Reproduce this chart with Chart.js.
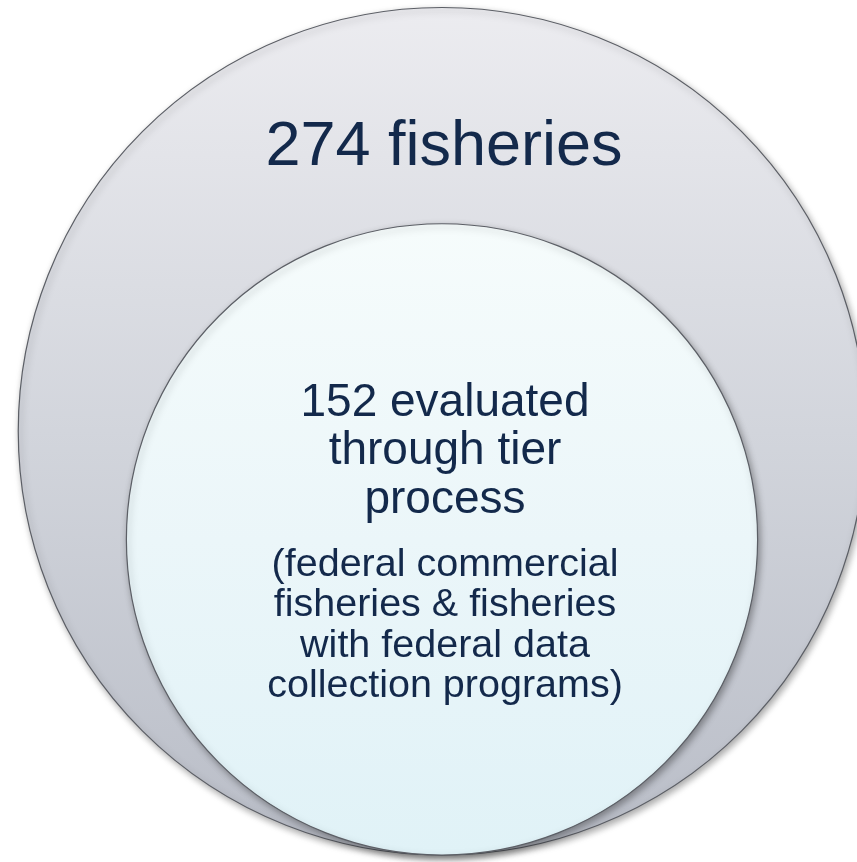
<!DOCTYPE html>
<html>
<head>
<meta charset="utf-8">
<script src="https://cdn.jsdelivr.net/npm/chart.js@4/dist/chart.umd.min.js"></script>
<style>
  html, body { margin: 0; padding: 0; background: #ffffff; }
  #wrap { width: 857px; height: 862px; }
</style>
</head>
<body>
<div id="wrap"><canvas id="c" width="857" height="862"></canvas></div>
<script>
// ---- data ----
const categories = ['274 fisheries', '152 evaluated through tier process'];
const counts = [274, 152];
const headlines = [
  ['274 fisheries'],
  ['152 evaluated', 'through tier', 'process']
];
const sublines = [
  [],
  ['(federal commercial', 'fisheries & fisheries', 'with federal data', 'collection programs)']
];

// ---- layout / style ----
const W = 857, H = 862;
const K = 25.6;            // radius per sqrt(count): circle area proportional to count
const CX = 442;            // common centre line
const BOTTOM = 855;        // circles nested, tangent at the bottom
const fills = [
  ['#ececf0', '#d2d5dc', '#b9bdc7'],
  ['#f6fcfc', '#ebf6f9', '#e0f2f7']
];
const TEXT = '#13294b';
const FONT = '"Liberation Sans", Arial, Helvetica, sans-serif';

const radii = counts.map(v => K * Math.sqrt(v));
const points = counts.map((v, i) => ({ x: CX, y: BOTTOM - radii[i], r: radii[i] }));

const shadowPlugin = {
  id: 'shadow',
  beforeDatasetDraw(chart) {
    const ctx = chart.ctx;
    ctx.save();
    ctx.shadowColor = 'rgba(0,0,0,0.35)';
    ctx.shadowBlur = 7;
    ctx.shadowOffsetX = 2;
    ctx.shadowOffsetY = 3;
  },
  afterDatasetDraw(chart) {
    chart.ctx.restore();
  }
};

const labelPlugin = {
  id: 'labels',
  afterDatasetsDraw(chart) {
    const ctx = chart.ctx;
    const meta = chart.getDatasetMeta(0);
    ctx.save();
    ctx.fillStyle = TEXT;
    ctx.textAlign = 'center';
    ctx.textBaseline = 'alphabetic';
    meta.data.forEach((el, i) => {
      const r = points[i].r;
      const top = el.y - r;
      const tx = el.x + 2;
      if (i === 0) {
        ctx.font = '63px ' + FONT;
        headlines[0].forEach((t, j) => ctx.fillText(t, tx, top + 158 + j * 70));
      } else {
        ctx.font = '46px ' + FONT;
        headlines[1].forEach((t, j) => ctx.fillText(t, tx + 1, top + 192 + j * 48.5));
        ctx.font = '39.5px ' + FONT;
        sublines[1].forEach((t, j) => ctx.fillText(t, tx + 1, top + 352 + j * 40.5));
      }
    });
    ctx.restore();
  }
};

const chart = new Chart(document.getElementById('c'), {
  type: 'bubble',
  data: {
    labels: categories,
    datasets: [{
      label: 'fisheries',
      data: points,
      clip: false,
      backgroundColor(context) {
        const chart = context.chart;
        const i = context.dataIndex;
        if (i === undefined || i === null || !points[i]) return fills[0][1];
        const p = points[i];
        const ys = chart.scales && chart.scales.y;
        const yc = ys ? ys.getPixelForValue(p.y) : NaN;
        if (!Number.isFinite(yc)) return fills[i][1];
        const g = chart.ctx.createLinearGradient(0, yc - p.r, 0, yc + p.r);
        g.addColorStop(0, fills[i][0]);
        g.addColorStop(0.5, fills[i][1]);
        g.addColorStop(1, fills[i][2]);
        return g;
      },
      borderColor: '#5c5f66',
      borderWidth: 1.2,
      hoverBorderWidth: 1.2
    }]
  },
  options: {
    responsive: false,
    animation: false,
    devicePixelRatio: 1,
    layout: { padding: 0, autoPadding: false },
    events: [],
    scales: {
      x: { type: 'linear', min: 0, max: W, display: false },
      y: { type: 'linear', min: 0, max: H, reverse: true, display: false }
    },
    plugins: {
      legend: { display: false },
      tooltip: { enabled: false }
    }
  },
  plugins: [shadowPlugin, labelPlugin]
});
</script>
</body>
</html>
